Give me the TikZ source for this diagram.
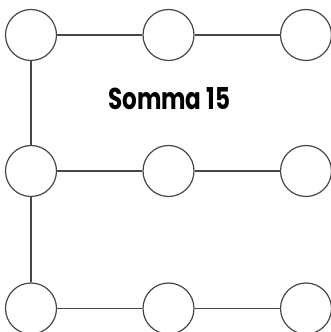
\documentclass[tikz,border=0pt]{standalone}
\usepackage{fontspec}
\setmainfont{Poppins}
\begin{document}
\begin{tikzpicture}[x=1pt,y=1pt,
  dot/.style={circle,draw=black!72,line width=1.2pt,minimum size=51pt,inner sep=0pt,fill=white},
  link/.style={draw=black!72,line width=1.2pt}]
\useasboundingbox (0,0) rectangle (330,332);
\node[dot] (a1) at (31,297) {};
\node[dot] (a2) at (168.5,297) {};
\node[dot] (a3) at (306,297) {};
\node[dot] (b1) at (31,161) {};
\node[dot] (b2) at (168.5,161) {};
\node[dot] (b3) at (306,161) {};
\node[dot] (c1) at (31,23.5) {};
\node[dot] (c2) at (168.5,23.5) {};
\node[dot] (c3) at (306,23.5) {};
\draw[link] (a1) -- (a2) (a2) -- (a3);
\draw[link] (b1) -- (b2) (b2) -- (b3);
\draw[link] (c1) -- (c2) (c2) -- (c3);
\draw[link] (a1) -- (b1) (b1) -- (c1);
\node[anchor=south west,inner sep=0pt] (title) at (108,222) {\resizebox{122pt}{22pt}{\bfseries Somma 15}};
\end{tikzpicture}
\end{document}
